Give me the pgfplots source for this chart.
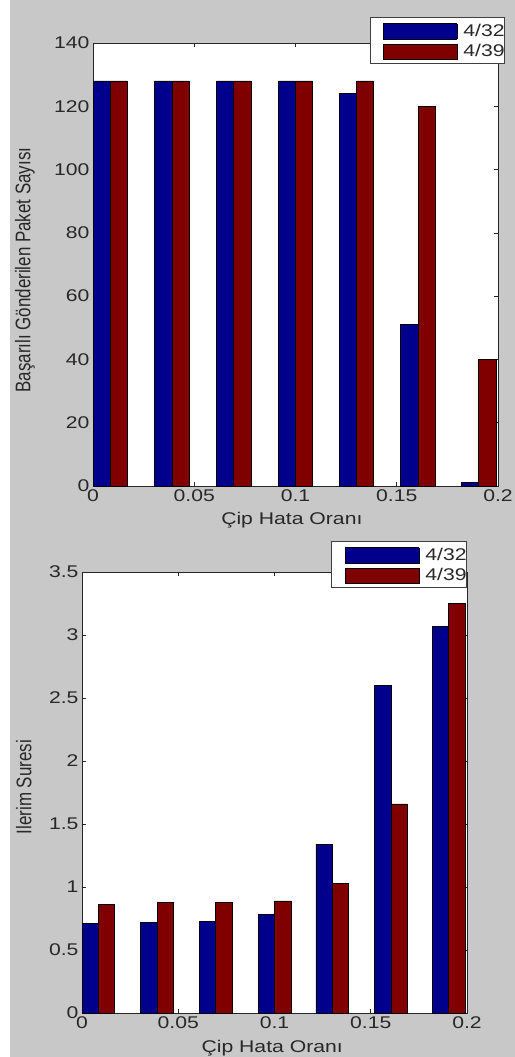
\documentclass[border=0pt]{standalone}
\usepackage{fontspec}
\setmainfont{Liberation Sans}
\usepackage{graphicx}
\usepackage{pgfplots}
\pgfplotsset{compat=1.18}
\definecolor{mblue}{RGB}{0,0,140}
\definecolor{mred}{RGB}{128,0,0}
\definecolor{figgray}{RGB}{200,200,200}
\definecolor{txt}{RGB}{40,40,40}
\newcommand{\hs}[1]{\scalebox{1.25}[1]{#1}}
\newcommand{\vs}[1]{\scalebox{1}[1.25]{#1}}
\newcommand{\ff}{\fontsize{17}{18}\selectfont}
\newcommand{\sw}[1]{\raisebox{-3bp}{\setlength{\fboxsep}{0pt}\setlength{\fboxrule}{0.7bp}\fcolorbox{black}{#1}{\rule{0pt}{15bp}\rule{73bp}{0pt}}}}
\pgfplotsset{
  mystyle/.style={
    scale only axis, xmin=0, xmax=0.2, ymin=0,
    axis line style={draw=black!85, line width=0.9bp},
    tick style={draw=black!85, line width=0.7bp},
    major tick length=4bp,
    tick align=inside,
    xtick={0,0.05,0.1,0.15,0.2},
    xticklabels={\hs{0},\hs{0.05},\hs{0.1},\hs{0.15},\hs{0.2}},
    ticklabel style={font=\ff, text=txt},
    label style={font=\ff, text=txt},
    axis background/.style={fill=white},
    legend style={draw=black!75, line width=0.9bp, fill=white, font=\ff, text=txt, anchor=north east, inner xsep=0pt, inner ysep=6bp, row sep=6bp, nodes={inner sep=0pt}},
    legend cell align=left,
  },
  emptyimg/.style={legend image code/.code={}},
  pblue/.style={ybar, bar width=0.0085, bar shift=-0.00425, fill=mblue, draw=black, line width=0.7bp, emptyimg},
  pred/.style={ybar, bar width=0.0085, bar shift=0.00425, fill=mred, draw=black, line width=0.7bp, emptyimg},
}
\begin{document}
\begin{tikzpicture}
\useasboundingbox (0,0) rectangle (515bp,-1057bp);
\fill[figgray] (10bp,0) rectangle (515bp,-1057bp);
% top panel
\begin{axis}[mystyle,
  at={(93bp,-486bp)}, anchor=south west,
  width=405bp, height=443bp,
  ymax=140, ytick={0,20,...,140},
  yticklabels={\hs{0},\hs{20},\hs{40},\hs{60},\hs{80},\hs{100},\hs{120},\hs{140}},
  xlabel={\hs{Çip Hata Oranı}},
  xlabel style={at={(axis description cs:0.491,-0.0767)}, anchor=center},
  ylabel={\vs{Başarılı Gönderilen Paket Sayısı}},
  ylabel style={at={(axis description cs:-0.168,0.4876)}, anchor=center},
  legend style={at={(1.0173,1.0587)}},
]
\addplot[pblue] coordinates {(0.0085,128) (0.039,128) (0.0695,128) (0.1,128) (0.13,124) (0.1605,51) (0.1905,1)};
\addplot[pred] coordinates {(0.0085,128) (0.039,128) (0.0695,128) (0.1,128) (0.13,128) (0.1605,120) (0.1905,40)};
\legend{\hspace{13bp}\sw{mblue}\hspace{6bp}\hs{4/32}\hspace{13bp},\hspace{13bp}\sw{mred}\hspace{6bp}\hs{4/39}\hspace{13bp}}
\end{axis}
% bottom panel
\begin{axis}[mystyle,
  at={(82bp,-1013bp)}, anchor=south west,
  width=385bp, height=441bp,
  ymax=3.5, ytick={0,0.5,...,3.5},
  yticklabels={\hs{0},\hs{0.5},\hs{1},\hs{1.5},\hs{2},\hs{2.5},\hs{3},\hs{3.5}},
  xlabel={\hs{Çip Hata Oranı}},
  xlabel style={at={(axis description cs:0.494,-0.079)}, anchor=center},
  ylabel={\vs{Ilerim Suresi}},
  ylabel style={at={(axis description cs:-0.151,0.512)}, anchor=center},
  legend style={at={(1.0,1.0703)}},
]
\addplot[pblue] coordinates {(0.0085,0.714) (0.039,0.72) (0.0695,0.73) (0.1,0.78) (0.13,1.34) (0.1605,2.60) (0.1905,3.07)};
\addplot[pred] coordinates {(0.0085,0.865) (0.039,0.875) (0.0695,0.875) (0.1,0.89) (0.13,1.03) (0.1605,1.66) (0.1905,3.25)};
\legend{\hspace{13bp}\sw{mblue}\hspace{6bp}\hs{4/32}\hspace{13bp},\hspace{13bp}\sw{mred}\hspace{6bp}\hs{4/39}\hspace{13bp}}
\end{axis}
\end{tikzpicture}
\end{document}
